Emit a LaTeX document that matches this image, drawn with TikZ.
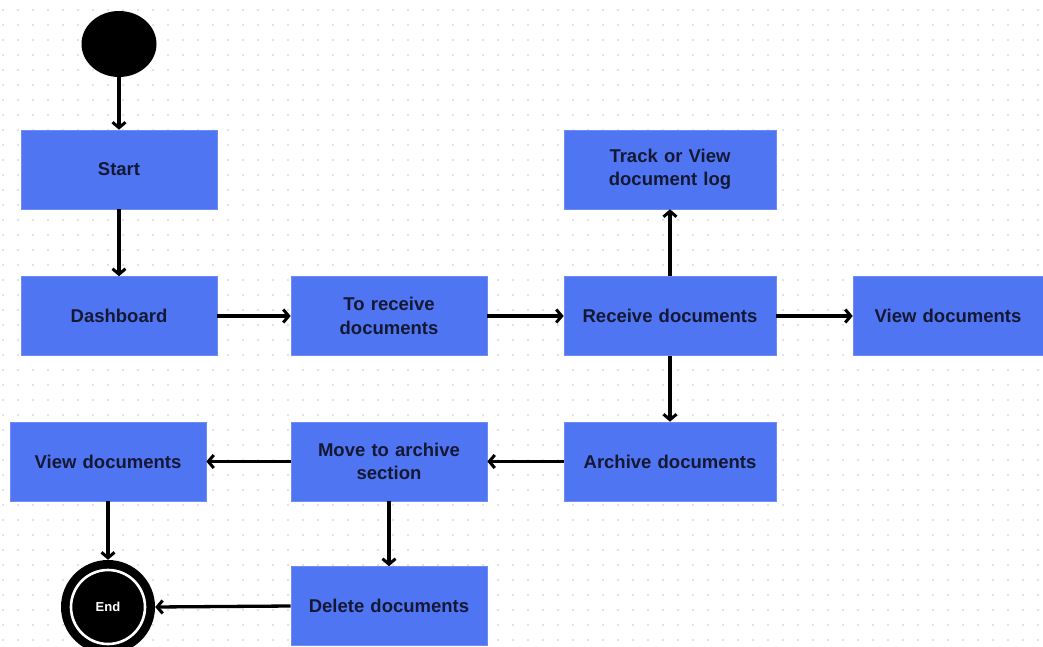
\documentclass[tikz,border=0pt]{standalone}
\usepackage{fontspec}
\setmainfont{Liberation Sans}
\usetikzlibrary{arrows.meta,shapes.geometric}
\definecolor{boxblue}{HTML}{5075F2}
\definecolor{boxedge}{HTML}{6E8CF5}
\definecolor{txt}{HTML}{141833}
\begin{document}
\begin{tikzpicture}[x=1pt,y=-1pt,
  box/.style={draw=boxedge,line width=0.6pt,fill=boxblue,minimum width=196pt,minimum height=79pt,
    text width=190pt,align=center,font=\bfseries\fontsize{18.5}{23.5}\selectfont,text=txt,inner sep=0pt},
  wbox/.style={box,minimum width=212pt,text width=206pt},
  vbox/.style={box,minimum width=190pt,text width=186pt},
  arr/.style={line width=3.3pt,-{Straight Barb[length=5.5pt,width=13pt,line width=3pt]}}]
\useasboundingbox (0,0) rectangle (1043,647);
\fill[white] (0,0) rectangle (1043,647);
\foreach \i in {0,...,69}{\foreach \j in {0,...,43}{
  \fill[black!22] (3+15*\i,10+15*\j) circle (0.8pt);}}
% start
\node[draw=none,fill=black,ellipse,minimum width=75pt,minimum height=66pt,inner sep=0pt] (init) at (119,44) {};
\node[box] (start) at (119,169.5) {Start};
\node[box] (dash) at (119,316) {Dashboard};
\node[box] (torec) at (389,316) {To receive\\documents};
\node[wbox] (rec) at (670,316) {Receive documents};
\node[wbox] (track) at (670,169.5) {Track or View\\document log};
\node[vbox] (viewr) at (948,316) {View documents};
\node[wbox] (arch) at (670,461.5) {Archive documents};
\node[box] (move) at (389,461.5) {Move to archive\\section};
\node[box] (viewl) at (108,461.5) {View documents};
\node[box] (del) at (389,606) {Delete documents};
% end
\node[circle,fill=black,minimum size=94pt,inner sep=0pt] (fin) at (108,607) {};
\node[circle,draw=white,line width=2.6pt,fill=black,minimum size=74pt,inner sep=0pt] (fininner) at (108,607) {};
\node[text=white,font=\bfseries\fontsize{13}{15}\selectfont] (endlbl) at (108,607) {End};
% arrows
\draw[arr] (init) -- (start);
\draw[arr] (start) -- (dash);
\draw[arr] (dash) -- (torec);
\draw[arr] (torec) -- (rec);
\draw[arr] (rec) -- (track);
\draw[arr] (rec) -- (viewr);
\draw[arr] (rec) -- (arch);
\draw[arr] (arch) -- (move);
\draw[arr] (move) -- (viewl);
\draw[arr] (move) -- (del);
\draw[arr] (viewl.south) -- (fin.north);
\draw[arr] (del.west) -- (fin.east);
\end{tikzpicture}
\end{document}
